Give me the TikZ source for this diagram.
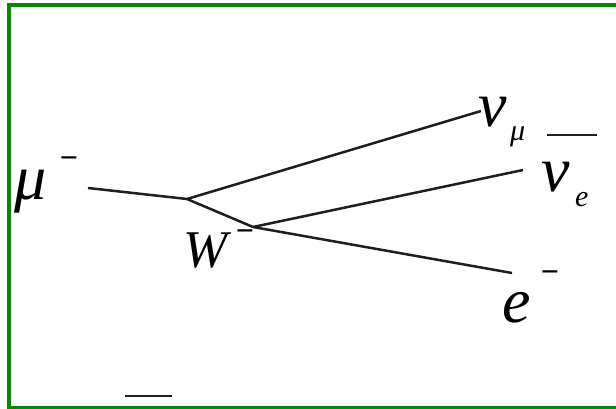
\documentclass[tikz,border=0pt]{standalone}
\usepackage{fontspec}
\setmainfont{Liberation Serif}
\definecolor{framegreen}{RGB}{0,140,0}
\definecolor{ink}{RGB}{30,30,30}
\begin{document}
\begin{tikzpicture}[x=1pt,y=-1pt,
  prop/.style={draw=ink,line width=2.5pt},
  big/.style={inner sep=0pt,font=\fontsize{64}{64}\selectfont\itshape},
  wfont/.style={inner sep=0pt,font=\fontsize{53}{53}\selectfont\itshape},
  small/.style={inner sep=0pt,font=\fontsize{30}{30}\selectfont\itshape},
  minus/.style={inner sep=0pt,font=\fontsize{32}{32}\selectfont\bfseries}]
\useasboundingbox (0,0) rectangle (616,409);
\begin{scope}
\clip (0,0) rectangle (616,409);
\draw[framegreen,line width=4pt] (9,5) rectangle (630,407.5);
\end{scope}
% vertices and free ends
\coordinate (muend) at (88,188);
\coordinate (v1) at (187,199);
\coordinate (v2) at (253,227);
\coordinate (numuend) at (481,111);
\coordinate (nueend) at (523,170);
\coordinate (eend) at (512,273);
\draw[prop] (muend) -- (v1);
\draw[prop] (v1) -- (numuend);
\draw[prop] (v1) -- (v2);
\draw[prop] (v2) -- (nueend);
\draw[prop] (v2) -- (eend);
% labels
\node[big,anchor=base west] (mu) at (14,200) {μ};
\node[minus] (mum) at (69,163) {−};
\node[wfont,anchor=base west] (W) at (183,267) {W};
\node[minus] (Wm) at (245,236) {−};
\node[big,anchor=base west] (numu) at (478,127) {ν};
\node[small,anchor=base west] (numusub) at (510,141) {μ};
\draw[ink,line width=2.2pt] (547,135) -- (597,135);
\node[big,anchor=base west] (nue) at (541,192) {ν};
\node[small,anchor=base west] (nuesub) at (575,207) {e};
\node[big,anchor=base west] (el) at (502,322) {e};
\node[minus] (elm) at (550,277) {−};
% stray mark at bottom
\draw[ink,line width=2pt] (125,396) -- (172,396);
\end{tikzpicture}
\end{document}
